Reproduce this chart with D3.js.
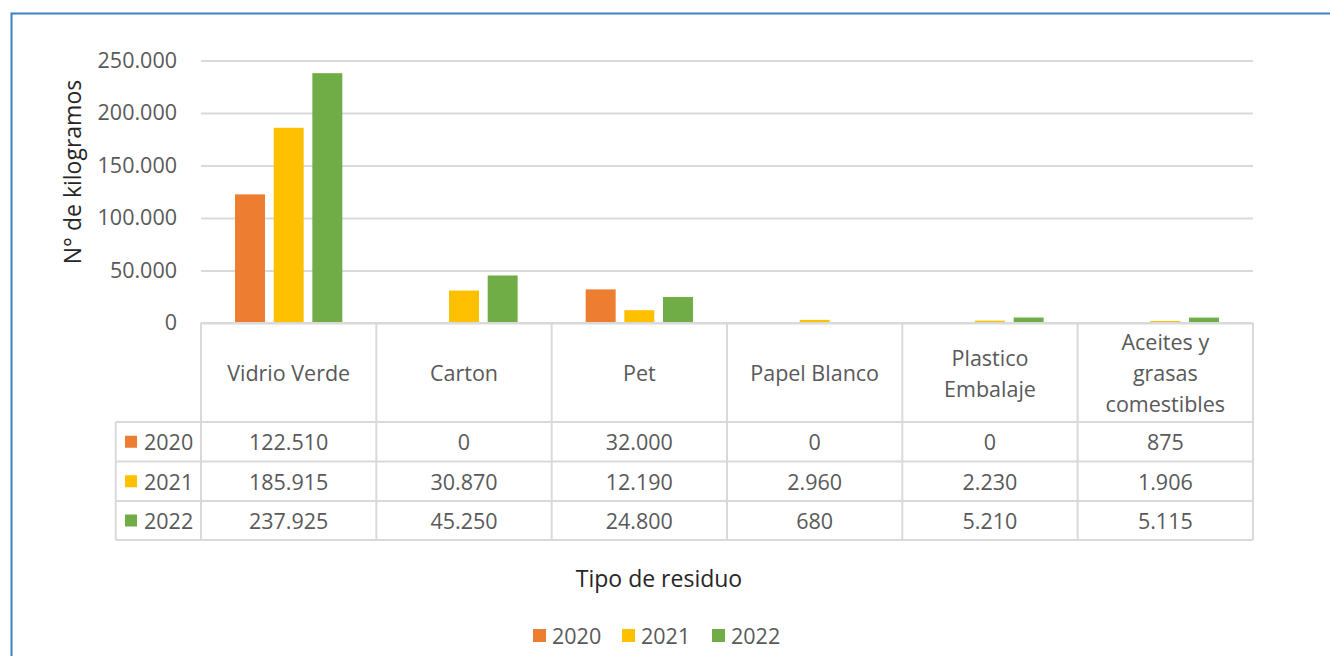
<!DOCTYPE html>
<html lang="es">
<head>
    <meta charset="UTF-8">
    <title>Tipo de residuo - kilogramos</title>
    <script src="https://d3js.org/d3.v7.min.js"></script>
    <style>
        body { margin: 0; background: #fff; }
        text { font-family: "Open Sans", sans-serif; }
    </style>
</head>
<body>
    <svg id="chart" width="1330" height="656"></svg>

    <script>
        // Data
        const categories = ["Vidrio Verde", "Carton", "Pet", "Papel Blanco", "Plastico Embalaje", "Aceites y grasas comestibles"];
        const headerLines = [["Vidrio Verde"], ["Carton"], ["Pet"], ["Papel Blanco"], ["Plastico", "Embalaje"], ["Aceites y", "grasas", "comestibles"]];
        const years = ["2020", "2021", "2022"];
        const values2020 = [122510, 0, 32000, 0, 0, 875];
        const values2021 = [185915, 30870, 12190, 2960, 2230, 1906];
        const values2022 = [237925, 45250, 24800, 680, 5210, 5115];
        const yTicks = [0, 50000, 100000, 150000, 200000, 250000];

        const colors = { "2020": "#ED7D31", "2021": "#FFC000", "2022": "#70AD47" };
        const series = { "2020": values2020, "2021": values2021, "2022": values2022 };

        // Spanish number format: 122.510
        const es = d3.formatLocale({ decimal: ",", thousands: ".", grouping: [3], currency: ["", " €"] });
        const fmt = es.format(",.0f");

        let svg = d3.select("#chart");

        // blue frame of the surrounding box
        svg.append("path")
            .attr("d", "M11.5,700V13.5H1330")
            .attr("fill", "none")
            .attr("stroke", "#3b82c4")
            .attr("stroke-width", 2);

        // scales
        let x0 = d3.scaleBand()
            .domain(categories)
            .range([201, 1253])
            .padding(0);

        let x1 = d3.scaleBand()
            .domain(years)
            .range([0, x0.bandwidth()])
            .paddingInner(0.225)
            .paddingOuter(0.88);

        let y = d3.scaleLinear()
            .domain([0, 250000])
            .range([323, 60.5]);

        // Y axis with gridlines
        let yAxis = svg.append("g")
            .attr("transform", "translate(201,0)")
            .call(d3.axisLeft(y).tickValues(yTicks).tickFormat(fmt).tickSize(-1052).tickPadding(24));
        yAxis.select(".domain").remove();
        yAxis.selectAll(".tick line").attr("stroke", "#d9d9d9").attr("stroke-width", 2);
        yAxis.selectAll(".tick text")
            .attr("fill", "#595959")
            .style("font-size", "21.5px")
            .style("font-family", "'Open Sans', sans-serif");

        // bars
        let groups = svg.append("g").selectAll("g")
            .data(categories)
            .join("g")
            .attr("transform", d => `translate(${x0(d)},0)`);

        groups.selectAll("rect")
            .data((d, i) => years.map(yr => ({ yr: yr, v: series[yr][i] })))
            .join("rect")
            .attr("x", d => x1(d.yr))
            .attr("y", d => y(d.v))
            .attr("width", x1.bandwidth())
            .attr("height", d => y(0) - y(d.v))
            .attr("fill", d => colors[d.yr]);

        // data table under the plot
        const headerTop = 323, headerBottom = 422;
        const rowBounds = [422, 461.5, 501, 540];
        const tableLeft = 115.7;
        const gridColor = "#d9d9d9";
        let table = svg.append("g");

        // horizontal lines
        table.append("line").attr("x1", 201).attr("x2", 1253).attr("y1", headerTop).attr("y2", headerTop);
        rowBounds.forEach(rb => {
            table.append("line").attr("x1", tableLeft).attr("x2", 1253).attr("y1", rb).attr("y2", rb);
        });
        // vertical lines
        table.append("line").attr("x1", tableLeft).attr("x2", tableLeft).attr("y1", headerBottom).attr("y2", 540);
        categories.forEach(c => {
            table.append("line").attr("x1", x0(c)).attr("x2", x0(c)).attr("y1", headerTop).attr("y2", 540);
        });
        table.append("line").attr("x1", 1253).attr("x2", 1253).attr("y1", headerTop).attr("y2", 540);
        table.selectAll("line").attr("stroke", gridColor).attr("stroke-width", 2);

        // header labels
        categories.forEach((c, i) => {
            let lines = headerLines[i];
            let cx = x0(c) + x0.bandwidth() / 2;
            let cy = (headerTop + headerBottom) / 2;
            lines.forEach((ln, j) => {
                table.append("text")
                    .attr("x", cx)
                    .attr("y", cy + (j - (lines.length - 1) / 2) * 31)
                    .attr("text-anchor", "middle")
                    .attr("dominant-baseline", "central")
                    .attr("fill", "#595959")
                    .style("font-size", "21.5px")
                    .text(ln);
            });
        });

        // value rows
        years.forEach((yr, r) => {
            let cy = (rowBounds[r] + rowBounds[r + 1]) / 2;
            table.append("rect")
                .attr("x", 125).attr("y", cy - 6)
                .attr("width", 12).attr("height", 12)
                .attr("fill", colors[yr]);
            table.append("text")
                .attr("x", 144).attr("y", cy)
                .attr("dominant-baseline", "central")
                .attr("fill", "#595959")
                .style("font-size", "21.5px")
                .text(yr);
            categories.forEach((c, i) => {
                table.append("text")
                    .attr("x", x0(c) + x0.bandwidth() / 2)
                    .attr("y", cy)
                    .attr("text-anchor", "middle")
                    .attr("dominant-baseline", "central")
                    .attr("fill", "#595959")
                    .style("font-size", "21.5px")
                    .text(fmt(series[yr][i]));
            });
        });

        // axis titles
        svg.append("text")
            .attr("transform", "translate(72,172) rotate(-90)")
            .attr("text-anchor", "middle")
            .attr("dominant-baseline", "central")
            .attr("fill", "#262626")
            .style("font-size", "23px")
            .text("N° de kilogramos");

        svg.append("text")
            .attr("x", 659).attr("y", 578)
            .attr("text-anchor", "middle")
            .attr("dominant-baseline", "central")
            .attr("fill", "#262626")
            .style("font-size", "23px")
            .text("Tipo de residuo");

        // legend
        const legendX = [533, 622, 712];
        let legend = svg.append("g");
        years.forEach((yr, i) => {
            legend.append("rect")
                .attr("x", legendX[i]).attr("y", 629)
                .attr("width", 13).attr("height", 13)
                .attr("fill", colors[yr]);
            legend.append("text")
                .attr("x", legendX[i] + 19).attr("y", 635.5)
                .attr("dominant-baseline", "central")
                .attr("fill", "#595959")
                .style("font-size", "21.5px")
                .text(yr);
        });
    </script>
</body>
</html>
